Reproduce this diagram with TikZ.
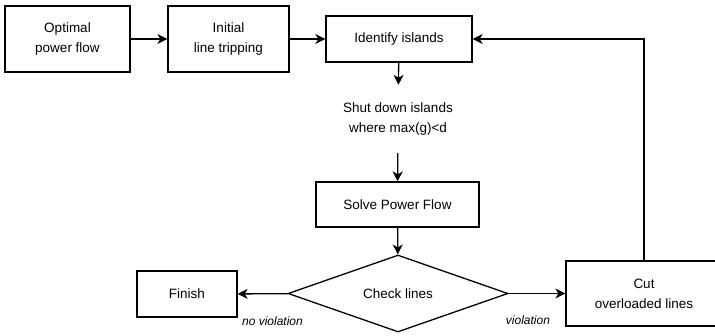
\documentclass[tikz,border=0pt]{standalone}
\usepackage{fontspec}
\setmainfont{Liberation Sans}
\usetikzlibrary{shapes.geometric,arrows.meta}

\begin{document}
\begin{tikzpicture}[x=1pt,y=-1pt,
    font=\fontsize{13.5}{20}\selectfont,
    box/.style={draw,line width=1.3pt,align=center,inner sep=2pt},
    flow/.style={line width=1.3pt,-{Stealth[length=10pt,width=10pt,inset=3pt]}},
    note/.style={font=\fontsize{12}{14}\selectfont\itshape}]
  \useasboundingbox (0,0) rectangle (715,335);

  \node[box,minimum width=125pt,minimum height=66pt] (opf) at (67.5,39) {Optimal\\power flow};
  \node[box,minimum width=121pt,minimum height=66pt] (trip) at (228.5,39) {Initial\\line tripping};
  \node[box,minimum width=146pt,minimum height=46pt] (isl) at (399,39) {Identify islands};
  \node[align=center,minimum height=68pt,inner sep=0pt] (shut) at (398,119) {Shut down islands\\where max(g)<d};
  \node[box,minimum width=163pt,minimum height=45pt] (solve) at (397.5,204.5) {Solve Power Flow};
  \node[box,diamond,aspect=2.86,inner sep=0pt,minimum width=220pt,minimum height=77pt] (chk) at (398,293.5) {Check lines};
  \node[box,minimum width=100pt,minimum height=46pt] (fin) at (187,294) {Finish};
  \node[box,minimum width=156pt,minimum height=65pt] (cut) at (644,293.5) {Cut\\overloaded lines};

  \draw[flow] (opf) -- (trip);
  \draw[flow] (trip) -- (isl);
  \draw[flow] (isl) -- (shut);
  \draw[flow] (shut) -- (solve);
  \draw[flow] (solve) -- (chk);
  \draw[flow] (chk) -- node[note,pos=0.31,yshift=-27pt] {no violation} (fin);
  \draw[flow] (chk) -- node[note,pos=0.34,yshift=-27pt] {violation} (cut);
  \draw[flow] (cut.north) |- (isl.east);
\end{tikzpicture}
\end{document}
